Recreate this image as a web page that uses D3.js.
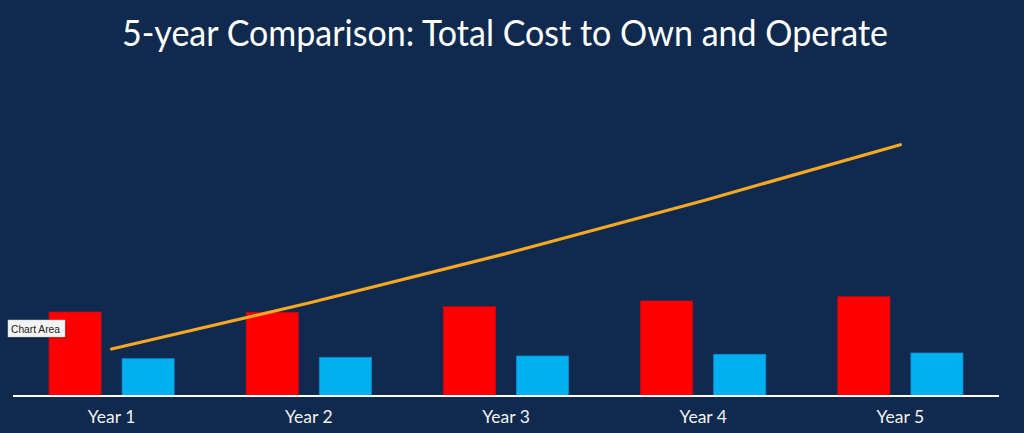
<!DOCTYPE html>
<html>
<head>
<meta charset="utf-8">
<script src="https://cdn.jsdelivr.net/npm/d3@7"></script>
<style>
  html, body { margin: 0; padding: 0; background: #0f2a4e; }
  svg { display: block; }
</style>
</head>
<body>
<svg id="chart" width="1024" height="433"></svg>
<script>
const title = "5-year Comparison: Total Cost to Own and Operate";
const categories = ["Year 1", "Year 2", "Year 3", "Year 4", "Year 5"];
const seriesRed = [84, 83.7, 89.3, 95, 99.3];
const seriesBlue = [37.3, 38.7, 40, 41.7, 43];
const seriesLine = [47, 93, 142.4, 195.3, 251.3];
const yDomain = [0, 260];

const svg = d3.select("#chart");
const W = 1024, H = 433;
svg.append("rect").attr("width", W).attr("height", H).attr("fill", "#0f2a4e");

const x0 = d3.scaleBand().domain(categories).range([13, 999]).paddingInner(0).paddingOuter(0);
const x1 = d3.scaleBand().domain(["red", "blue"]).range([0, x0.bandwidth()]).paddingInner(0.2877).paddingOuter(0.493);
const y = d3.scaleLinear().domain(yDomain).range([396, 136]);

// Title
svg.append("text")
  .attr("x", 505).attr("y", 46)
  .attr("text-anchor", "middle")
  .attr("fill", "#ffffff")
  .attr("font-family", "Lato, 'Open Sans', sans-serif")
  .attr("font-size", 37)
  .attr("textLength", 766)
  .attr("lengthAdjust", "spacingAndGlyphs")
  .text(title);

const g = svg.append("g");

// Bars
const groups = g.selectAll("g.cat").data(categories).join("g")
  .attr("class", "cat")
  .attr("transform", d => `translate(${x0(d)},0)`);

groups.append("rect")
  .attr("x", x1("red"))
  .attr("width", x1.bandwidth())
  .attr("y", (d, i) => y(seriesRed[i]))
  .attr("height", (d, i) => y(0) - y(seriesRed[i]))
  .attr("fill", "#ff0000")
  .attr("stroke", "#d40010").attr("stroke-width", 0.8);

groups.append("rect")
  .attr("x", x1("blue"))
  .attr("width", x1.bandwidth())
  .attr("y", (d, i) => y(seriesBlue[i]))
  .attr("height", (d, i) => y(0) - y(seriesBlue[i]))
  .attr("fill", "#00b0f0")
  .attr("stroke", "#0a8ccc").attr("stroke-width", 0.8);

// Line
const line = d3.line()
  .x((d, i) => x0(categories[i]) + x0.bandwidth() / 2)
  .y(d => y(d));
g.append("path")
  .datum(seriesLine)
  .attr("d", line)
  .attr("fill", "none")
  .attr("stroke", "#f7a823")
  .attr("stroke-width", 3.2)
  .attr("stroke-linecap", "round")
  .attr("stroke-linejoin", "round");

// X axis
const xAxis = d3.axisBottom(x0).tickSize(0).tickPadding(15);
const ax = svg.append("g").attr("transform", `translate(0,${y(0)})`).call(xAxis);
ax.select(".domain").attr("stroke", "#ffffff").attr("stroke-width", 2).attr("d", `M13,0H999`);
ax.selectAll("text")
  .attr("fill", "#f2f2f2")
  .attr("font-family", "Lato, 'Open Sans', sans-serif")
  .attr("font-size", 17.5);

// "Chart Area" tooltip
const tip = svg.append("g").attr("transform", "translate(8,320)");
tip.append("rect").attr("x", 1.5).attr("y", 1.5).attr("width", 57).attr("height", 17).attr("fill", "rgba(0,0,0,0.3)");
tip.append("rect").attr("width", 57).attr("height", 17).attr("fill", "#f4f4f4").attr("stroke", "#c8c8c8").attr("stroke-width", 0.5);
tip.append("text").attr("x", 3).attr("y", 12.5)
  .attr("fill", "#222")
  .attr("font-family", "'Liberation Sans', Arial, sans-serif")
  .attr("font-size", 10.5)
  .attr("textLength", 49)
  .attr("lengthAdjust", "spacingAndGlyphs")
  .text("Chart Area");
</script>
</body>
</html>
